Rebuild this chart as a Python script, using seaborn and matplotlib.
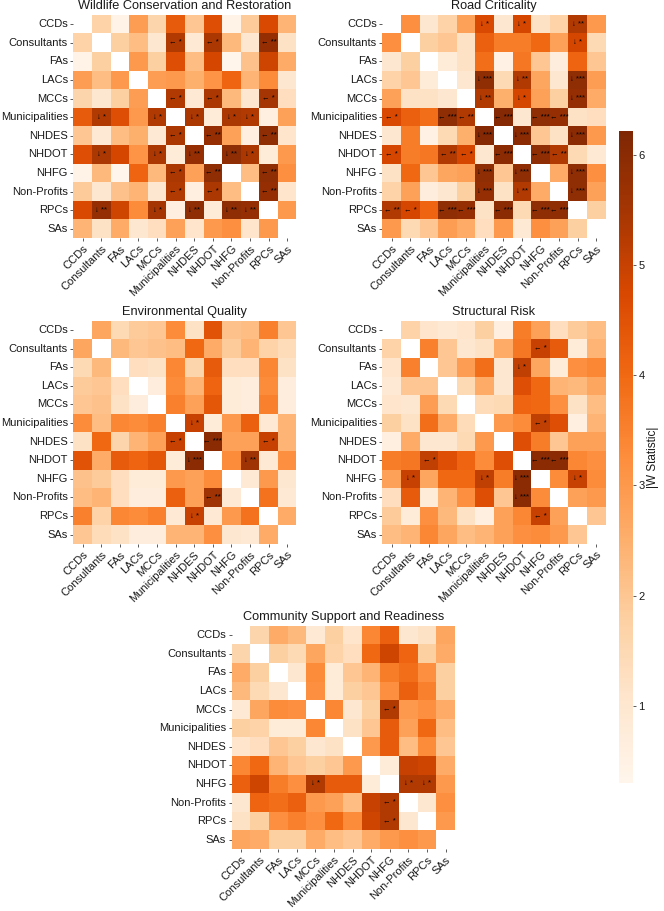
import numpy as np
import pandas as pd
import matplotlib
matplotlib.use("Agg")
import matplotlib.pyplot as plt
import seaborn as sns

groups = ["CCDs", "Consultants", "FAs", "LACs", "MCCs", "Municipalities",
          "NHDES", "NHDOT", "NHFG", "Non-Profits", "RPCs", "SAs"]

titles = ["Wildlife Conservation and Restoration", "Road Criticality",
          "Environmental Quality", "Structural Risk",
          "Community Support and Readiness"]

# upper triangles (row i, columns i+1 .. 11) of |W| values
wildlife_upper = [
    [1.7, 0.4, 2.9, 1.6, 4.3, 2.0, 4.6, 0.4, 1.9, 4.7, 2.4],
    [1.8, 2.2, 1.0, 5.3, 0.9, 5.4, 2.3, 1.0, 5.8, 1.2],
    [3.0, 1.8, 4.6, 2.2, 4.8, 0.3, 2.1, 4.9, 2.6],
    [2.9, 3.0, 2.5, 3.1, 4.1, 2.4, 3.3, 1.0],
    [5.3, 0.9, 5.4, 2.3, 1.0, 5.5, 1.3],
    [5.4, 0.8, 5.4, 5.3, 0.6, 2.8],
    [5.8, 2.8, 0.6, 5.9, 1.1],
    [5.9, 5.4, 0.8, 3.0],
    [2.2, 5.9, 3.2],
    [5.8, 1.1],
    [3.0],
]
road_upper = [
    [3.2, 1.0, 1.7, 2.8, 4.7, 1.0, 4.8, 1.2, 1.7, 5.3, 3.0],
    [1.8, 2.0, 1.2, 4.2, 3.6, 3.6, 4.0, 2.8, 4.8, 1.5],
    [0.8, 1.2, 3.9, 0.5, 3.7, 2.0, 0.7, 4.1, 2.0],
    [1.0, 5.9, 1.5, 5.3, 2.7, 1.0, 5.9, 2.9],
    [5.3, 2.5, 4.8, 2.8, 1.8, 5.8, 2.6],
    [6.1, 1.0, 5.9, 5.8, 1.2, 1.3],
    [6.0, 2.0, 1.2, 6.0, 3.0],
    [5.9, 5.3, 1.5, 0.9],
    [2.6, 5.9, 3.2],
    [5.9, 2.8],
    [1.8],
]
environment_upper = [
    [2.7, 1.5, 1.9, 2.0, 3.3, 1.2, 4.5, 2.1, 2.2, 3.5, 2.0],
    [2.3, 2.0, 2.1, 2.2, 4.0, 2.6, 1.9, 2.4, 1.7, 1.4],
    [1.3, 1.2, 3.4, 1.6, 4.3, 1.3, 1.3, 3.4, 1.2],
    [0.7, 3.3, 2.4, 4.1, 0.8, 0.7, 3.3, 0.7],
    [3.5, 2.8, 4.4, 0.8, 0.7, 3.5, 0.7],
    [5.0, 0.8, 3.0, 4.2, 0.9, 2.4],
    [6.0, 2.8, 2.8, 5.0, 2.4],
    [3.3, 5.6, 0.9, 3.2],
    [0.9, 3.0, 1.0],
    [3.8, 0.9],
    [2.6],
]
structural_upper = [
    [1.7, 1.1, 0.9, 1.1, 1.8, 0.6, 3.6, 2.8, 1.3, 1.9, 2.2],
    [3.5, 2.0, 1.0, 1.2, 2.6, 3.7, 5.0, 4.3, 0.8, 2.4],
    [2.0, 2.9, 3.9, 1.0, 5.1, 2.7, 0.8, 3.2, 3.4],
    [1.5, 2.6, 1.0, 4.6, 4.0, 2.4, 2.3, 2.7],
    [1.4, 1.5, 4.1, 4.0, 3.2, 1.2, 2.2],
    [3.0, 3.3, 5.1, 4.6, 0.6, 2.4],
    [4.6, 3.6, 2.0, 2.8, 2.8],
    [6.0, 6.0, 3.4, 3.2],
    [3.3, 5.0, 3.3],
    [2.8, 3.0],
    [2.0],
]
community_upper = [
    [1.6, 2.6, 2.3, 0.9, 1.8, 1.1, 3.4, 4.2, 1.0, 1.2, 2.7],
    [1.8, 1.5, 2.7, 1.7, 1.3, 4.0, 4.9, 4.1, 1.8, 2.6],
    [1.0, 3.3, 0.8, 2.0, 2.4, 3.6, 3.9, 3.2, 1.8],
    [3.2, 0.8, 1.8, 2.0, 3.2, 4.2, 3.5, 1.8],
    [3.4, 1.0, 1.8, 5.3, 3.0, 3.2, 2.6],
    [1.2, 2.0, 4.3, 2.8, 4.0, 2.2],
    [3.0, 4.3, 2.2, 3.3, 2.0],
    [0.8, 5.0, 4.9, 2.6],
    [5.3, 5.3, 3.0],
    [1.0, 3.2],
    [3.0],
]

# significant pairs: (higher group, lower group, stars)
wildlife_sig = [
    ("Consultants", "Municipalities", "*"), ("Consultants", "NHDOT", "*"), ("Consultants", "RPCs", "**"),
    ("MCCs", "Municipalities", "*"), ("MCCs", "NHDOT", "*"), ("MCCs", "RPCs", "*"),
    ("NHDES", "Municipalities", "*"), ("NHDES", "NHDOT", "**"), ("NHDES", "RPCs", "**"),
    ("NHFG", "Municipalities", "*"), ("NHFG", "NHDOT", "**"), ("NHFG", "RPCs", "**"),
    ("Non-Profits", "Municipalities", "*"), ("Non-Profits", "NHDOT", "*"), ("Non-Profits", "RPCs", "**"),
]
road_sig = [
    ("Municipalities", "CCDs", "*"), ("Municipalities", "LACs", "***"), ("Municipalities", "MCCs", "**"),
    ("Municipalities", "NHDES", "***"), ("Municipalities", "NHFG", "***"), ("Municipalities", "Non-Profits", "***"),
    ("NHDOT", "CCDs", "*"), ("NHDOT", "LACs", "**"), ("NHDOT", "MCCs", "*"),
    ("NHDOT", "NHDES", "***"), ("NHDOT", "NHFG", "***"), ("NHDOT", "Non-Profits", "**"),
    ("RPCs", "CCDs", "**"), ("RPCs", "Consultants", "*"), ("RPCs", "LACs", "***"), ("RPCs", "MCCs", "***"),
    ("RPCs", "NHDES", "***"), ("RPCs", "NHFG", "***"), ("RPCs", "Non-Profits", "***"),
]
environment_sig = [
    ("NHDES", "Municipalities", "*"), ("NHDES", "NHDOT", "***"), ("NHDES", "RPCs", "*"),
    ("Non-Profits", "NHDOT", "**"),
]
structural_sig = [
    ("Consultants", "NHFG", "*"), ("Municipalities", "NHFG", "*"), ("NHDOT", "FAs", "*"),
    ("NHDOT", "NHFG", "***"), ("NHDOT", "Non-Profits", "***"), ("RPCs", "NHFG", "*"),
]
community_sig = [
    ("MCCs", "NHFG", "*"), ("Non-Profits", "NHFG", "*"), ("RPCs", "NHFG", "*"),
]

panels = [
    (wildlife_upper, wildlife_sig),
    (road_upper, road_sig),
    (environment_upper, environment_sig),
    (structural_upper, structural_sig),
    (community_upper, community_sig),
]

VMIN, VMAX = 0.3, 6.22


def full_matrix(upper):
    n = len(groups)
    m = np.full((n, n), np.nan)
    for i, row in enumerate(upper):
        for k, v in enumerate(row):
            j = i + 1 + k
            m[i, j] = v
            m[j, i] = v
    return pd.DataFrame(m, index=groups, columns=groups)


def annot_matrix(sig):
    n = len(groups)
    a = np.full((n, n), "", dtype=object)
    for w, l, s in sig:
        i, j = groups.index(w), groups.index(l)
        a[i, j] = "\u2190 " + s
        a[j, i] = "\u2193 " + s
    return a


sns.set_style("ticks")
plt.rcParams['font.family'] = ['Liberation Sans', 'DejaVu Sans']
plt.rcParams['text.color'] = '0.1'

fig = plt.figure(figsize=(6.64, 9.11), dpi=100)
W, H = 0.336, 0.245
positions = [
    [0.1105, 0.7387, W, H],
    [0.576, 0.7387, W, H],
    [0.1105, 0.4029, W, H],
    [0.576, 0.4029, W, H],
    [0.349, 0.068, W, H],
]
cax = fig.add_axes([0.932, 0.141, 0.021, 0.715])

for idx, ((upper, sig), pos, title) in enumerate(zip(panels, positions, titles)):
    ax = fig.add_axes(pos)
    df = full_matrix(upper)
    ann = annot_matrix(sig)
    sns.heatmap(df, ax=ax, cmap="Oranges", vmin=VMIN, vmax=VMAX,
                annot=ann, fmt="", annot_kws={"fontsize": 5.5, "color": "black"},
                cbar=(idx == 0), cbar_ax=cax if idx == 0 else None,
                xticklabels=True, yticklabels=True, linewidths=0)
    ax.set_title(title, fontsize=9.2, pad=4, color='0.1')
    ax.set_xlabel("")
    ax.set_ylabel("")
    ax.tick_params(axis='both', labelsize=8, length=2.5, pad=1.5, width=0.6,
                   colors='0.25', labelcolor='0.1')
    plt.setp(ax.get_xticklabels(), rotation=45, ha='right', rotation_mode='anchor')
    plt.setp(ax.get_yticklabels(), rotation=0)

cax.tick_params(labelsize=8, length=2.5, pad=1.5, width=0.6, colors='0.25', labelcolor='0.1')
cax.set_yticks([1, 2, 3, 4, 5, 6])
cax.set_ylabel("|W Statistic|", fontsize=8.5, labelpad=2, color='0.1')

fig.savefig("out.png", dpi=100)
